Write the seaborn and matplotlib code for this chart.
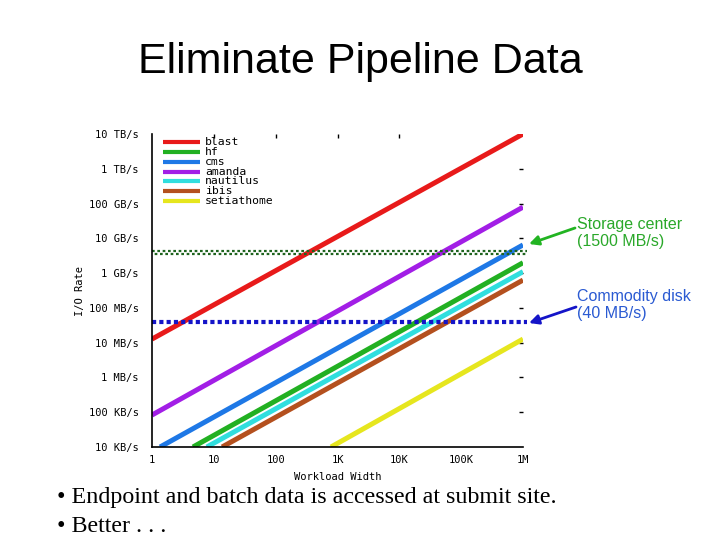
import numpy as np
import pandas as pd
import seaborn as sns
import matplotlib
matplotlib.use('Agg')
import matplotlib.pyplot as plt
from matplotlib import transforms
from matplotlib.ticker import NullLocator

# workloads, and the two end points of each line (workload width, I/O rate in MB/s)
workloads = ['blast', 'hf', 'cms', 'amanda', 'nautilus', 'ibis', 'setiathome']
start_width = [1, 4.6, 1.35, 1, 7.7, 13.6, 785]
start_rate = [12.7, 0.01, 0.01, 0.083, 0.01, 0.01, 0.01]
end_width = [1e6, 1e6, 1e6, 1e6, 1e6, 1e6, 1e6]
end_rate = [1e7, 1990, 6460, 79000, 1100, 630, 12.7]
colors = ['#e81a1a', '#22b022', '#1e78e6', '#a21ee6', '#30dede', '#b4501e', '#e6e61e']

# horizontal reference levels (MB/s)
storage_rate = 3900
disk_rate = 40

width_ticks = [1, 10, 100, 1e3, 1e4, 1e5, 1e6]
width_labels = ['1', '10', '100', '1K', '10K', '100K', '1M']
rate_ticks = [1e-2, 1e-1, 1, 10, 100, 1e3, 1e4, 1e5, 1e6, 1e7]
rate_labels = ['10 KB/s', '100 KB/s', '1 MB/s', '10 MB/s', '100 MB/s',
               '1 GB/s', '10 GB/s', '100 GB/s', '1 TB/s', '10 TB/s']

rows = []
for i, w in enumerate(workloads):
    rows.append({'workload': w, 'width': start_width[i], 'rate': start_rate[i]})
    rows.append({'workload': w, 'width': end_width[i], 'rate': end_rate[i]})
df = pd.DataFrame(rows)

sns.set_style('white')
plt.rcParams['text.color'] = 'black'
plt.rcParams['axes.labelcolor'] = 'black'
plt.rcParams['xtick.color'] = 'black'
plt.rcParams['ytick.color'] = 'black'
mono = 'DejaVu Sans Mono'

fig = plt.figure(figsize=(7.2, 5.4), dpi=100)
ax = fig.add_axes([152 / 720, 93 / 540, 371 / 720, 313 / 540])
ax.set_xscale('log')
ax.set_yscale('log')

sns.lineplot(data=df, x='width', y='rate', hue='workload',
             palette=dict(zip(workloads, colors)), estimator=None,
             linewidth=3.6, legend=False, ax=ax)
for ln in ax.get_lines():
    ln.set_solid_capstyle('butt')

# storage center level: checkered dark green (two offset rows)
for dy, off in [(1.1, 0), (-1.1, 1.2)]:
    tr = transforms.offset_copy(ax.transData, fig=fig, y=dy, units='points')
    ax.hlines(storage_rate, 1, 1.16e6, colors='#1e641e', linewidth=1.6,
              linestyles=[(off, (1.2, 1.2))], transform=tr, clip_on=False)
# commodity disk level: blue dots
ax.hlines(disk_rate, 1, 1.16e6, colors='#1414c8', linewidth=3,
          linestyles=[(0, (1, 0.75))], clip_on=False)

ax.set_xlim(1, 1e6)
ax.set_ylim(1e-2, 1e7)
ax.set_xticks(width_ticks)
ax.set_xticklabels(width_labels)
ax.set_yticks(rate_ticks)
ax.set_yticklabels(rate_labels)
ax.xaxis.set_minor_locator(NullLocator())
ax.yaxis.set_minor_locator(NullLocator())

sns.despine(ax=ax)
ax.spines['left'].set_linewidth(1.2)
ax.spines['bottom'].set_linewidth(1.2)
ax.spines['left'].set_color('black')
ax.spines['bottom'].set_color('black')
ax.tick_params(axis='both', which='major', direction='in', length=3, width=1,
               color='black', top=True, right=True, labelsize=7.5)
ax.tick_params(axis='y', pad=9.4)
ax.tick_params(axis='x', pad=6)
for lab in ax.get_xticklabels() + ax.get_yticklabels():
    lab.set_family(mono)

# mirrored ticks only appear on the inner positions
xt = ax.xaxis.get_major_ticks()
for k in [0, 5, 6]:
    xt[k].tick2line.set_visible(False)
yt = ax.yaxis.get_major_ticks()
for k in [0, 9]:
    yt[k].tick2line.set_visible(False)

ax.set_xlabel('Workload Width', family=mono, fontsize=7.5, labelpad=5)
ax.set_ylabel('I/O Rate', family=mono, fontsize=7.5, labelpad=3)

# legend drawn as in the gnuplot key
step = 0.0313
for i, w in enumerate(workloads):
    y = 0.974 - i * step
    ax.plot([0.0297, 0.129], [y, y], transform=ax.transAxes, color=colors[i],
            linewidth=3, solid_capstyle='butt', clip_on=False)
    ax.text(0.143, y, w, transform=ax.transAxes, family=mono, fontsize=8.2,
            va='center', ha='left')

# slide text
fig.text(0.5, 1 - 62 / 540, 'Eliminate Pipeline Data', ha='center', va='center',
         fontsize=31, family='Liberation Sans')
fig.text(57 / 720, 1 - 497 / 540, '• Endpoint and batch data is accessed at submit site.',
         ha='left', va='center', fontsize=17.3, family='Liberation Serif')
fig.text(57 / 720, 1 - 527 / 540, '• Better . . .',
         ha='left', va='center', fontsize=17.3, family='Liberation Serif')

fig.text(577 / 720, 1 - 233 / 540, 'Storage center\n(1500 MB/s)', ha='left', va='center',
         fontsize=11.5, family='Liberation Sans', color='#2aa82a', linespacing=1.15)
fig.text(577 / 720, 1 - 305 / 540, 'Commodity disk\n(40 MB/s)', ha='left', va='center',
         fontsize=11.5, family='Liberation Sans', color='#2a5ad2', linespacing=1.15)

ax.annotate('', xy=(529 / 720, 1 - 244 / 540), xycoords='figure fraction',
            xytext=(575 / 720, 1 - 228 / 540), textcoords='figure fraction',
            arrowprops=dict(arrowstyle='-|>', color='#22b422', lw=2,
                            mutation_scale=14, shrinkA=0, shrinkB=0))
ax.annotate('', xy=(529 / 720, 1 - 323 / 540), xycoords='figure fraction',
            xytext=(576 / 720, 1 - 307 / 540), textcoords='figure fraction',
            arrowprops=dict(arrowstyle='-|>', color='#1414c8', lw=2,
                            mutation_scale=14, shrinkA=0, shrinkB=0))

fig.savefig('out.png', dpi=100)
